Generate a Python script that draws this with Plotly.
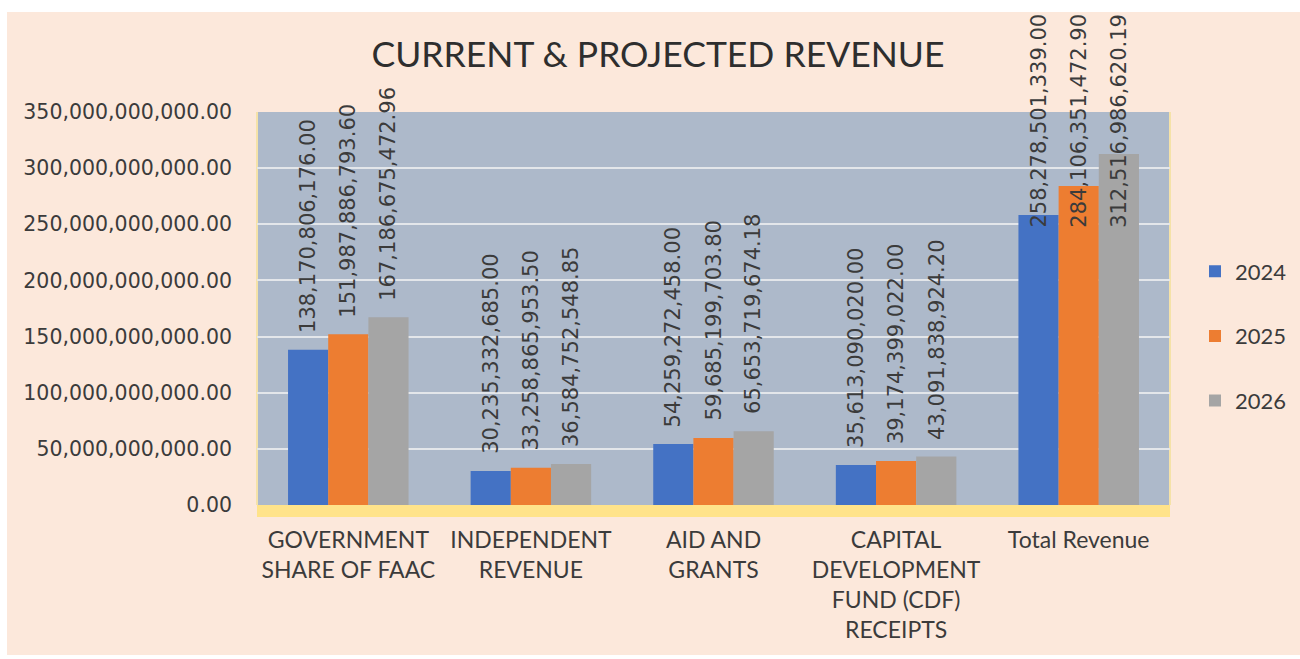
import plotly.graph_objects as go

categories = [
    "GOVERNMENT<br>SHARE OF FAAC",
    "INDEPENDENT<br>REVENUE",
    "AID AND<br>GRANTS",
    "CAPITAL<br>DEVELOPMENT<br>FUND (CDF)<br>RECEIPTS",
    "Total Revenue",
]
years = ["2024", "2025", "2026"]
values_2024 = [138170806176.00, 30235332685.00, 54259272458.00, 35613090020.00, 258278501339.00]
values_2025 = [151987886793.60, 33258865953.50, 59685199703.80, 39174399022.00, 284106351472.90]
values_2026 = [167186675472.96, 36584752548.85, 65653719674.18, 43091838924.20, 312516986620.19]
series = [values_2024, values_2025, values_2026]
colors = ["#4472c4", "#ed7d31", "#a5a5a5"]

y_max = 350e9
y_step = 50e9

W, H = 1300, 659
L, T = 257, 112
R = W - 1170
B = H - 505
pw, ph = W - L - R, H - T - B
bargap = 0.34
nser = len(series)
bw = (1 - bargap) / nser
FONT = "Lato"
NUMFONT = "DejaVu Sans"
TXT = "#3b3b3b"

fig = go.Figure()
xpos = list(range(len(categories)))
for i, (yr, vals, c) in enumerate(zip(years, series, colors)):
    fig.add_trace(go.Bar(x=xpos, y=vals, name=yr, marker_color=c,
                         marker_line_width=0, legendgroup=yr))


def py(page_y):
    return (H - B - page_y) / ph


def px_x(page_x):
    return (page_x - L) / pw


# data labels (rotated), pinned to the top of the chart when they would overflow
label_size = 21
char_px = 11.6
gap_shift = 15
top_limit_page = 15
annotations = []
for i, vals in enumerate(series):
    for j, v in enumerate(vals):
        txt = f"{v:,.2f}"
        xc = j + (i - (nser - 1) / 2) * bw
        bar_top_page = T + ph * (1 - v / y_max)
        label_top_page = bar_top_page - 18 - len(txt) * char_px
        common = dict(x=xc, xref="x", text=txt, textangle=-90, showarrow=False,
                      font=dict(family=NUMFONT, size=label_size, color=TXT))
        if label_top_page < top_limit_page:
            annotations.append(dict(y=py(top_limit_page - 3), yref="paper",
                                    yanchor="top", **common))
        else:
            annotations.append(dict(y=v, yref="y", yanchor="bottom", yshift=gap_shift, **common))

shapes = [
    dict(type="rect", xref="paper", yref="paper", x0=px_x(7), x1=px_x(1300), y0=py(655), y1=py(12),
         fillcolor="#fce8db", line_width=0, layer="below"),
    dict(type="rect", xref="paper", yref="paper", x0=0, x1=1, y0=0, y1=1,
         fillcolor="#adb9ca", line_width=0, layer="below"),
    dict(type="rect", xref="paper", yref="paper", x0=0, x1=1, y0=py(517), y1=0,
         fillcolor="#ffe38a", line_width=0, layer="below"),
    dict(type="line", xref="paper", yref="paper", x0=0, x1=0, y0=0, y1=1,
         line=dict(color="#f5e2a8", width=2), layer="below"),
    dict(type="line", xref="paper", yref="paper", x0=1, x1=1, y0=0, y1=1,
         line=dict(color="#f5e2a8", width=2), layer="below"),
]

fig.update_layout(
    width=W, height=H,
    margin=dict(l=L, r=R, t=T, b=B, pad=0, autoexpand=False),
    paper_bgcolor="#ffffff",
    plot_bgcolor="rgba(0,0,0,0)",
    barmode="group",
    bargap=bargap,
    bargroupgap=0,
    title=dict(text="CURRENT & PROJECTED REVENUE", x=658 / W, xanchor="center",
               y=1 - 55 / H, yanchor="middle",
               font=dict(family=FONT, size=35.5, color="#2e2e2e")),
    font=dict(family=FONT, color=TXT),
    showlegend=True,
    legend=dict(xref="container", yref="container", x=1195 / W, y=1 - 336 / H,
                xanchor="left", yanchor="middle",
                orientation="v", font=dict(family=FONT, size=22, color=TXT),
                bgcolor="rgba(0,0,0,0)", tracegroupgap=33, itemwidth=30),
    annotations=annotations,
    shapes=shapes,
)
fig.update_xaxes(tickmode="array", tickvals=xpos, ticktext=categories,
                 range=[-0.5, len(categories) - 0.5], showgrid=False, zeroline=False,
                 showline=False, ticks="", ticklabelstandoff=19, automargin=False,
                 tickfont=dict(family=FONT, size=23, color=TXT))
fig.update_yaxes(range=[0, y_max], dtick=y_step, tick0=0, tickformat=",.2f",
                 showgrid=True, gridcolor="#e3e6ea", gridwidth=1.5, zeroline=False,
                 showline=False, ticks="", ticklabelstandoff=24, automargin=False,
                 tickfont=dict(family=NUMFONT, size=20.5, color=TXT))

fig.write_html("out.html", config={"displayModeBar": False},
               post_script="document.body.style.margin='0';document.body.style.overflow='hidden';")
